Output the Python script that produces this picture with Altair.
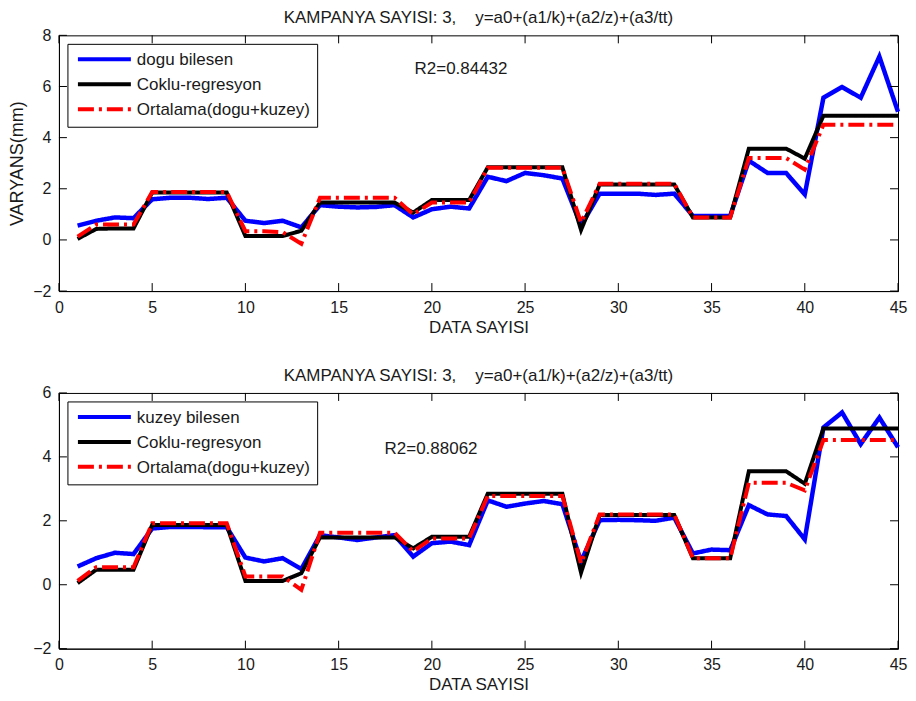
import altair as alt
import pandas as pd

# ---------------- data ----------------
data_x = list(range(1, 46))

dogu_bilesen = [0.56, 0.75, 0.88, 0.85, 1.59, 1.65, 1.65, 1.60, 1.65, 0.75,
                0.66, 0.75, 0.49, 1.36, 1.30, 1.27, 1.29, 1.36, 0.88, 1.20,
                1.30, 1.23, 2.47, 2.30, 2.62, 2.53, 2.40, 0.56, 1.81, 1.81,
                1.81, 1.76, 1.81, 0.94, 0.94, 0.94, 3.10, 2.62, 2.62, 1.78,
                5.56, 5.98, 5.56, 7.17, 5.01]
coklu_top = [0.04, 0.43, 0.45, 0.45, 1.85, 1.85, 1.85, 1.85, 1.85, 0.15,
             0.15, 0.15, 0.36, 1.46, 1.46, 1.46, 1.46, 1.46, 1.07, 1.56,
             1.56, 1.56, 2.84, 2.84, 2.84, 2.84, 2.84, 0.39, 2.17, 2.17,
             2.17, 2.17, 2.17, 0.88, 0.88, 0.88, 3.57, 3.57, 3.57, 3.18,
             4.86, 4.86, 4.86, 4.86, 4.86]
ortalama_top = [0.13, 0.60, 0.60, 0.60, 1.87, 1.87, 1.87, 1.87, 1.87, 0.34,
                0.34, 0.30, -0.15, 1.65, 1.65, 1.65, 1.65, 1.65, 1.00, 1.46,
                1.46, 1.46, 2.82, 2.82, 2.82, 2.82, 2.82, 0.68, 2.20, 2.20,
                2.20, 2.20, 2.20, 0.88, 0.88, 0.88, 3.20, 3.20, 3.20, 2.75,
                4.50, 4.50, 4.50, 4.50, 4.50]

kuzey_bilesen = [0.57, 0.83, 1.00, 0.96, 1.76, 1.81, 1.81, 1.80, 1.80, 0.85,
                 0.73, 0.83, 0.49, 1.55, 1.48, 1.40, 1.48, 1.55, 0.88, 1.30,
                 1.35, 1.24, 2.64, 2.44, 2.54, 2.62, 2.52, 0.73, 2.02, 2.03,
                 2.02, 2.00, 2.10, 0.98, 1.10, 1.08, 2.49, 2.20, 2.15, 1.42,
                 4.92, 5.39, 4.40, 5.23, 4.30]
coklu_bot = [0.05, 0.47, 0.47, 0.47, 1.87, 1.87, 1.87, 1.87, 1.87, 0.12,
             0.12, 0.12, 0.36, 1.48, 1.48, 1.48, 1.48, 1.48, 1.14, 1.50,
             1.50, 1.50, 2.85, 2.85, 2.85, 2.85, 2.85, 0.38, 2.18, 2.18,
             2.18, 2.18, 2.18, 0.83, 0.83, 0.83, 3.55, 3.55, 3.55, 3.16,
             4.89, 4.89, 4.89, 4.89, 4.89]
ortalama_bot = [0.12, 0.55, 0.55, 0.55, 1.92, 1.92, 1.92, 1.92, 1.92, 0.26,
                0.26, 0.26, -0.16, 1.63, 1.63, 1.63, 1.63, 1.63, 1.04, 1.45,
                1.45, 1.45, 2.78, 2.78, 2.78, 2.78, 2.78, 0.67, 2.20, 2.20,
                2.20, 2.20, 2.20, 0.83, 0.83, 0.83, 3.19, 3.19, 3.19, 2.95,
                4.53, 4.53, 4.53, 4.53, 4.53]

x_ticks = [0, 5, 10, 15, 20, 25, 30, 35, 40, 45]
y_ticks_top = [-2, 0, 2, 4, 6, 8]
y_ticks_bot = [-2, 0, 2, 4, 6]

names_top = ["dogu bilesen", "Coklu-regresyon", "Ortalama(dogu+kuzey)"]
names_bot = ["kuzey bilesen", "Coklu-regresyon", "Ortalama(dogu+kuzey)"]
r2_top = "R2=0.84432"
r2_bot = "R2=0.88062"
title_text = "KAMPANYA SAYISI: 3,\u00a0\u00a0\u00a0 y=a0+(a1/k)+(a2/z)+(a3/tt)"
x_title = "DATA SAYISI"
y_title = "VARYANS(mm)"

# ---------------- styles ----------------
W, H = 840, 256
FONT = "Liberation Sans"
TXT = "#1a1a1a"
colors = ["#0000ff", "#000000", "#ff0000"]
dashes = [[1, 0], [1, 0], [16, 5, 3, 5]]
TICK = 8


def panel(series, names, r2, r2_pos, ydom, yticks, ytitle):
    xs = alt.Scale(domain=[0, 45], nice=False, zero=False)
    ys = alt.Scale(domain=ydom, nice=False, zero=False)
    xa = alt.Axis(values=x_ticks, title=x_title, labelFlush=False)
    ya = alt.Axis(values=yticks, title=ytitle if ytitle else "", labelFlush=False)
    layers = []
    for i, (vals, nm) in enumerate(zip(series, names)):
        df = pd.DataFrame({"x": data_x, "y": vals})
        ln = alt.Chart(df).mark_line(
            color=colors[i], strokeWidth=4.5 if i == 0 else 4, strokeDash=dashes[i],
            strokeJoin="miter", strokeCap="butt"
        ).encode(x=alt.X("x:Q", scale=xs, axis=xa), y=alt.Y("y:Q", scale=ys, axis=ya))
        layers.append(ln)

    # inward ticks
    xt = pd.DataFrame({"x": x_ticks})
    yt = pd.DataFrame({"y": yticks})
    tk = dict(color="black", strokeWidth=1)
    layers.append(alt.Chart(xt).mark_rule(**tk).encode(
        x=alt.X("x:Q", scale=xs, axis=xa), y=alt.value(H), y2=alt.value(H - TICK)))
    layers.append(alt.Chart(xt).mark_rule(**tk).encode(
        x=alt.X("x:Q", scale=xs, axis=xa), y=alt.value(0), y2=alt.value(TICK)))
    layers.append(alt.Chart(yt).mark_rule(**tk).encode(
        y=alt.Y("y:Q", scale=ys, axis=ya), x=alt.value(0), x2=alt.value(TICK)))
    layers.append(alt.Chart(yt).mark_rule(**tk).encode(
        y=alt.Y("y:Q", scale=ys, axis=ya), x=alt.value(W), x2=alt.value(W - TICK)))

    # legend box (manual)
    lg = pd.DataFrame({"label": names[:1]})
    layers.append(alt.Chart(lg).mark_rect(
        fill="white", stroke="black", strokeWidth=1).encode(
        x=alt.value(9), x2=alt.value(259), y=alt.value(9), y2=alt.value(92)))
    ys_leg = [24, 49, 74]
    for i, nm in enumerate(names):
        d = pd.DataFrame({"label": [nm]})
        layers.append(alt.Chart(d).mark_rule(
            color=colors[i], strokeWidth=4, strokeDash=dashes[i], strokeCap="butt").encode(
            x=alt.value(19), x2=alt.value(72), y=alt.value(ys_leg[i])))
        layers.append(alt.Chart(d).mark_text(
            align="left", baseline="middle", font=FONT, fontSize=17, color=TXT).encode(
            x=alt.value(78), y=alt.value(ys_leg[i] + 1), text="label:N"))

    # R2 annotation
    rd = pd.DataFrame({"label": [r2]})
    layers.append(alt.Chart(rd).mark_text(
        align="left", baseline="middle", font=FONT, fontSize=17, color=TXT).encode(
        x=alt.value(r2_pos[0]), y=alt.value(r2_pos[1]), text="label:N"))

    return alt.layer(*layers).properties(
        width=W, height=H,
        title=alt.TitleParams(title_text, font=FONT, fontSize=17, fontWeight="normal",
                              color=TXT, anchor="middle", offset=0))


top = panel([dogu_bilesen, coklu_top, ortalama_top], names_top, r2_top, (356, 34),
            [-2, 8], y_ticks_top, y_title)
bot = panel([kuzey_bilesen, coklu_bot, ortalama_bot], names_bot, r2_bot, (326, 56),
            [-2, 6], y_ticks_bot, None)

chart = alt.vconcat(top, bot, spacing=30).properties(
    padding={"left": 0, "top": 0, "right": 0, "bottom": 0},
    background="white"
).configure_view(
    stroke="black", strokeWidth=1
).configure_axis(
    grid=False, ticks=False, domainColor="black", domainWidth=1,
    labelFont=FONT, labelFontSize=16, labelColor=TXT, labelPadding=8,
    titleFont=FONT, titleFontSize=17, titleFontWeight="normal", titleColor=TXT,
    titlePadding=4
).configure_axisY(
    titleFontSize=18, titlePadding=6
)

chart.save("out.html", embed_options={"renderer": "svg", "actions": False})
